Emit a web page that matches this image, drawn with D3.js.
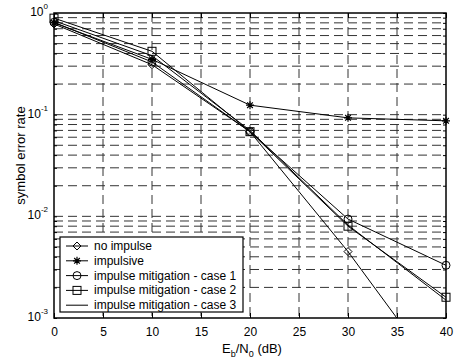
<!DOCTYPE html>
<html><head><meta charset="utf-8">
<script src="https://cdn.jsdelivr.net/npm/d3@7"></script>
<style>body{margin:0;background:#fff}text{font-family:"Liberation Sans",Arial,sans-serif}</style>
</head><body><svg id="c" width="459" height="363"></svg>
<script>
const ebn0 = [0, 10, 20, 30, 40];
const noImpulse = [0.78, 0.31, 0.068, 0.0045, 0.00022];
const impulsive = [0.80, 0.35, 0.124, 0.093, 0.087];
const case1 = [0.81, 0.33, 0.068, 0.0094, 0.0033];
const case2 = [0.89, 0.42, 0.068, 0.0080, 0.0016];
const case3 = [0.84, 0.38, 0.070, 0.0082, 0.0015];
const seriesNames = ["no impulse", "impulsive", "impulse mitigation - case 1", "impulse mitigation - case 2", "impulse mitigation - case 3"];
const markers = ["diamond", "star", "circle", "square", "none"];
const xTicks = [0, 5, 10, 15, 20, 25, 30, 35, 40];
const yDecades = [0, -1, -2, -3];

const svg = d3.select("#c");
const L = 54, R = 446, T = 13, B = 318;
const x = d3.scaleLinear().domain([0, 40]).range([L, R]);
const y = d3.scaleLog().domain([1e-3, 1]).range([B, T]);

// grid
const g = svg.append("g");
const minorY = [];
for (let d = -3; d < 0; d++) for (let k = 1; k <= 9; k++) minorY.push(k * Math.pow(10, d));
minorY.push(1);
g.selectAll("line.hy").data(minorY.filter(v => v > 1e-3 && v < 1)).enter().append("line")
  .attr("x1", L).attr("x2", R).attr("y1", d => y(d)).attr("y2", d => y(d))
  .attr("stroke", "#333").attr("stroke-width", 1).attr("stroke-dasharray", "9,5");
g.selectAll("line.vx").data(xTicks.filter(v => v > 0 && v < 40)).enter().append("line")
  .attr("x1", d => x(d)).attr("x2", d => x(d)).attr("y1", T).attr("y2", B)
  .attr("stroke", "#333").attr("stroke-width", 1).attr("stroke-dasharray", "9,5");

// axes
const ax = svg.append("g");
ax.append("g").attr("transform", `translate(0,${B})`)
  .call(d3.axisBottom(x).tickValues(xTicks).tickSize(-5).tickPadding(9).tickFormat(d3.format("d")))
  .call(s => { s.select(".domain").remove(); s.selectAll("text").attr("font-size", 12).attr("fill", "#000"); });
ax.append("g").attr("transform", `translate(0,${T})`)
  .call(d3.axisTop(x).tickValues(xTicks).tickSize(-5).tickFormat(""))
  .call(s => s.select(".domain").remove());
ax.append("g").attr("transform", `translate(${L},0)`)
  .call(d3.axisLeft(y).tickValues(minorY).tickSize(-3).tickFormat(""))
  .call(s => s.select(".domain").remove());
ax.append("g").attr("transform", `translate(${R},0)`)
  .call(d3.axisRight(y).tickValues(minorY).tickSize(-3).tickFormat(""))
  .call(s => s.select(".domain").remove());
ax.append("rect").attr("x", L).attr("y", T).attr("width", R - L).attr("height", B - T)
  .attr("fill", "none").attr("stroke", "#000").attr("stroke-width", 1.5);

// y decade labels
const yl = svg.append("g");
yDecades.forEach(e => {
  const t = yl.append("text").attr("x", L - 6).attr("y", y(Math.pow(10, e)) + 3).attr("text-anchor", "end").attr("font-size", 12);
  t.append("tspan").text("10");
  t.append("tspan").attr("dy", -7).attr("font-size", 8).text(e);
});

// labels
svg.append("text").attr("transform", `translate(25,${(T + B) / 2 - 10}) rotate(-90)`).attr("text-anchor", "middle").attr("font-size", 13).text("symbol error rate");
const xl = svg.append("text").attr("x", 252).attr("y", 353).attr("text-anchor", "middle").attr("font-size", 13);
xl.append("tspan").text("E");
xl.append("tspan").attr("dy", 4).attr("font-size", 9).text("b");
xl.append("tspan").attr("dy", -4).text("/N");
xl.append("tspan").attr("dy", 4).attr("font-size", 9).text("0");
xl.append("tspan").attr("dy", -4).text(" (dB)");

// series
const allSeries = [noImpulse, impulsive, case1, case2, case3];
svg.append("clipPath").attr("id", "clip").append("rect").attr("x", L).attr("y", T).attr("width", R - L).attr("height", B - T);
const line = d3.line().x((d, i) => x(ebn0[i])).y(d => y(d));
function drawMarker(sel, type, cx, cy) {
  const s = 4;
  if (type === "diamond") sel.append("path").attr("d", `M${cx},${cy - s}L${cx + s},${cy}L${cx},${cy + s}L${cx - s},${cy}Z`).attr("fill", "none").attr("stroke", "#000");
  else if (type === "circle") sel.append("circle").attr("cx", cx).attr("cy", cy).attr("r", s).attr("fill", "none").attr("stroke", "#000");
  else if (type === "square") sel.append("rect").attr("x", cx - s).attr("y", cy - s).attr("width", 2 * s).attr("height", 2 * s).attr("fill", "none").attr("stroke", "#000");
  else if (type === "star") {
    const p = [];
    for (let a = 0; a < 4; a++) { const an = a * Math.PI / 4; p.push(`M${cx - s * Math.cos(an)},${cy - s * Math.sin(an)}L${cx + s * Math.cos(an)},${cy + s * Math.sin(an)}`); }
    sel.append("path").attr("d", p.join("")).attr("stroke", "#000").attr("stroke-width", 1.2);
  }
}
const pg = svg.append("g").attr("clip-path", "url(#clip)");
allSeries.forEach((s, k) => {
  pg.append("path").attr("d", line(s)).attr("fill", "none").attr("stroke", "#000").attr("stroke-width", 1);
});
const mg = svg.append("g");
allSeries.forEach((s, k) => {
  s.forEach((v, i) => { if (v >= 1e-3) drawMarker(mg, markers[k], x(ebn0[i]), y(v)); });
});

// legend
const lg = svg.append("g");
lg.append("rect").attr("x", 60).attr("y", 237).attr("width", 183).attr("height", 75).attr("fill", "#fff").attr("stroke", "#000").attr("stroke-width", 1.2);
seriesNames.forEach((n, k) => {
  const ly = 246 + k * 14.8;
  lg.append("line").attr("x1", 66).attr("x2", 88).attr("y1", ly).attr("y2", ly).attr("stroke", "#000");
  drawMarker(lg, markers[k], 77, ly);
  lg.append("text").attr("x", 94).attr("y", ly + 4).attr("font-size", 12).text(n);
});
</script></body></html>
